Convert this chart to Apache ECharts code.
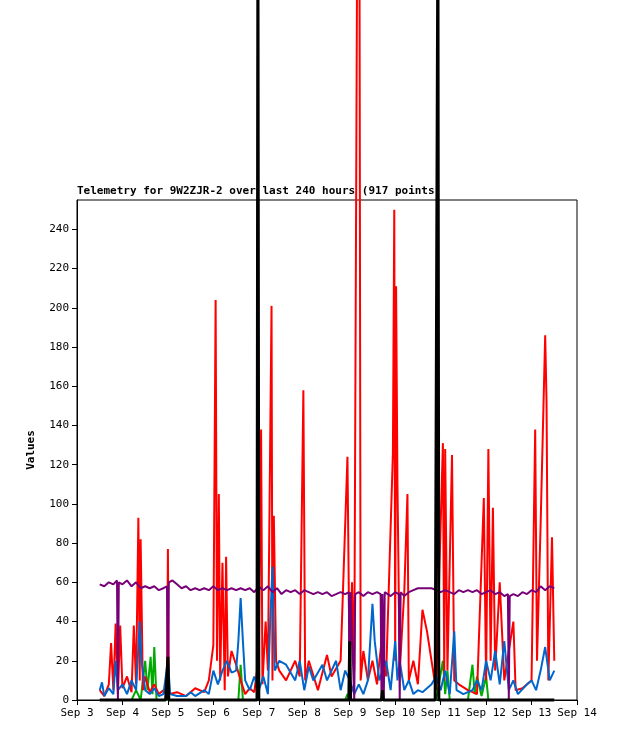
<!DOCTYPE html>
<html><head><meta charset="utf-8">
<script src="https://cdn.jsdelivr.net/npm/echarts@6/dist/echarts.min.js"></script>
<style>html,body{margin:0;padding:0;background:#fff}#c{width:618px;height:741px}</style>
</head><body><div id="c"></div>
<script>
// [day of September, value]
var purple = [[3.5,59],[3.6,58],[3.7,60],[3.8,59],[3.88,61],[3.9,0],[3.92,60],[4.0,59],[4.1,61],[4.2,58],[4.3,60],[4.4,57],[4.5,58],[4.6,57],[4.7,58],[4.8,56],[4.9,57],[4.98,58],[5.0,0],[5.02,60],[5.1,61],[5.2,59],[5.3,57],[5.4,58],[5.5,56],[5.6,57],[5.7,56],[5.8,57],[5.9,56],[6.0,58],[6.1,56],[6.2,57],[6.3,56],[6.4,57],[6.5,56],[6.6,57],[6.7,56],[6.8,57],[6.9,55],[6.97,57],[6.98,329],[6.99,58],[7.1,56],[7.2,58],[7.3,55],[7.4,57],[7.5,54],[7.6,56],[7.7,55],[7.8,56],[7.9,54],[8.0,56],[8.1,55],[8.2,54],[8.3,55],[8.4,54],[8.5,55],[8.6,53],[8.7,54],[8.8,55],[8.9,54],[8.98,55],[9.0,0],[9.02,55],[9.1,0],[9.12,54],[9.2,55],[9.3,53],[9.4,55],[9.5,54],[9.6,55],[9.68,54],[9.7,0],[9.72,54],[9.75,0],[9.77,55],[9.9,53],[10.0,55],[10.08,54],[10.1,0],[10.12,55],[10.2,53],[10.3,55],[10.4,56],[10.5,57],[10.6,57],[10.7,57],[10.8,57],[10.9,56],[11.0,55],[11.1,56],[11.2,55],[11.3,54],[11.4,56],[11.5,55],[11.6,56],[11.7,55],[11.8,56],[11.9,54],[12.0,55],[12.1,56],[12.2,54],[12.3,55],[12.4,53],[12.48,54],[12.5,0],[12.52,53],[12.6,54],[12.7,53],[12.8,55],[12.9,54],[13.0,56],[13.1,55],[13.2,58],[13.3,56],[13.4,58],[13.5,57]];
var red = [[3.5,5],[3.6,2],[3.7,8],[3.75,29],[3.8,5],[3.85,39],[3.9,3],[3.95,38],[4.0,6],[4.1,12],[4.2,4],[4.25,38],[4.3,8],[4.35,93],[4.38,10],[4.4,82],[4.45,5],[4.5,12],[4.6,4],[4.7,8],[4.8,3],[4.9,5],[4.98,2],[5.0,77],[5.02,3],[5.2,4],[5.4,2],[5.6,6],[5.8,4],[5.9,10],[6.0,28],[6.05,204],[6.08,20],[6.12,105],[6.15,10],[6.2,70],[6.25,5],[6.28,73],[6.32,12],[6.4,25],[6.5,18],[6.6,10],[6.7,3],[6.8,6],[6.9,4],[7.0,22],[7.05,138],[7.08,8],[7.15,40],[7.2,15],[7.28,201],[7.3,10],[7.33,94],[7.38,20],[7.45,15],[7.6,10],[7.8,20],[7.9,12],[7.98,158],[8.02,10],[8.1,20],[8.3,5],[8.5,23],[8.6,12],[8.8,20],[8.95,124],[9.0,8],[9.05,60],[9.1,15],[9.2,600],[9.24,10],[9.3,25],[9.4,10],[9.5,20],[9.6,8],[9.7,30],[9.8,12],[9.95,126],[9.98,250],[10.0,20],[10.02,211],[10.05,110],[10.1,15],[10.2,55],[10.27,105],[10.3,10],[10.4,20],[10.5,8],[10.6,46],[10.7,35],[10.8,20],[10.9,5],[11.05,131],[11.08,10],[11.1,128],[11.15,15],[11.25,125],[11.3,10],[11.4,8],[11.6,5],[11.8,3],[11.95,103],[12.0,10],[12.05,128],[12.1,20],[12.15,98],[12.2,15],[12.3,60],[12.4,10],[12.6,40],[12.65,5],[12.8,6],[13.0,10],[13.08,138],[13.12,20],[13.2,90],[13.3,186],[13.33,152],[13.37,10],[13.45,83],[13.5,20]];
var blue = [[3.5,5],[3.55,9],[3.6,2],[3.7,6],[3.8,3],[3.85,20],[3.9,5],[4.0,8],[4.1,3],[4.2,10],[4.3,5],[4.38,40],[4.42,20],[4.5,5],[4.6,3],[4.7,6],[4.8,2],[4.9,3],[5.0,20],[5.05,3],[5.2,2],[5.4,2],[5.5,4],[5.6,2],[5.8,5],[5.9,3],[6.0,15],[6.1,8],[6.2,15],[6.3,20],[6.4,14],[6.5,15],[6.55,30],[6.6,52],[6.65,30],[6.7,10],[6.8,5],[6.9,12],[7.0,5],[7.1,12],[7.2,3],[7.25,40],[7.3,68],[7.35,15],[7.45,20],[7.6,18],[7.8,10],[7.9,20],[8.0,5],[8.1,17],[8.2,10],[8.4,18],[8.5,10],[8.7,20],[8.8,5],[8.9,15],[9.0,10],[9.1,3],[9.2,8],[9.3,3],[9.4,10],[9.5,49],[9.55,30],[9.65,10],[9.8,20],[9.9,5],[10.0,30],[10.05,10],[10.1,20],[10.2,5],[10.3,10],[10.4,3],[10.5,5],[10.6,4],[10.7,6],[10.8,8],[10.9,12],[11.0,5],[11.1,15],[11.2,3],[11.3,35],[11.35,5],[11.5,3],[11.7,5],[11.8,10],[11.9,5],[12.0,20],[12.1,10],[12.2,25],[12.3,8],[12.4,30],[12.5,5],[12.6,10],[12.7,3],[12.9,8],[13.0,10],[13.1,5],[13.2,15],[13.3,27],[13.4,10],[13.5,15]];
var green = [[3.5,0],[4.2,0],[4.3,5],[4.4,0],[4.5,20],[4.55,5],[4.62,22],[4.66,3],[4.7,27],[4.75,0],[5.5,0],[6.55,0],[6.6,18],[6.65,0],[8.9,0],[8.95,3],[9.0,0],[10.9,0],[11.05,20],[11.1,3],[11.15,15],[11.2,0],[11.6,0],[11.7,18],[11.75,3],[11.8,12],[11.9,2],[12.0,12],[12.05,0],[13.5,0]];
var black = [[3.5,0],[4.95,0],[5.0,22],[5.02,0],[6.96,0],[6.98,400],[7.0,0],[8.98,0],[9.0,30],[9.02,0],[9.7,0],[9.72,5],[9.74,0],[10.88,0],[10.94,400],[10.96,0],[13.5,0]];
var xTicks = [3,4,5,6,7,8,9,10,11,12,13,14];

var mono = 'DejaVu Sans Mono';
function line(data, color, w) {
    return {type: 'line', data: data, clip: false, showSymbol: false, animation: false,
        lineStyle: {color: color, width: w}, itemStyle: {color: color}};
}
var chart = echarts.init(document.getElementById('c'));
chart.setOption({
    animation: false,
    title: {text: 'Telemetry for 9W2ZJR-2 over last 240 hours (917 points)', left: 77, top: 186, padding: 0,
        textStyle: {fontFamily: mono, fontSize: 11, fontWeight: 'bold', color: '#000'}},
    grid: {left: 77, top: 200, width: 500, height: 500, show: true, borderColor: '#000', borderWidth: 1},
    xAxis: {type: 'value', min: 3, max: 14, interval: 1,
        axisLine: {lineStyle: {color: '#000'}}, axisTick: {lineStyle: {color: '#000'}},
        splitLine: {show: false},
        axisLabel: {fontFamily: mono, fontSize: 11, color: '#000', formatter: function (v) { return xTicks.indexOf(v) >= 0 ? 'Sep ' + v : ''; }}},
    yAxis: {type: 'value', min: 0, max: 255, interval: 20, name: 'Values', nameLocation: 'middle', nameGap: 40,
        nameTextStyle: {fontFamily: mono, fontSize: 11, fontWeight: 'bold', color: '#000'},
        axisLine: {show: true, lineStyle: {color: '#000'}}, axisTick: {show: true, lineStyle: {color: '#000'}},
        splitLine: {show: false},
        axisLabel: {fontFamily: mono, fontSize: 11, color: '#000', showMaxLabel: false}},
    series: [line(green, '#00aa00', 2), line(red, '#ff0000', 2), line(blue, '#0066cc', 2),
             line(purple, '#770077', 2), line(black, '#000000', 3)]
});
</script></body></html>
